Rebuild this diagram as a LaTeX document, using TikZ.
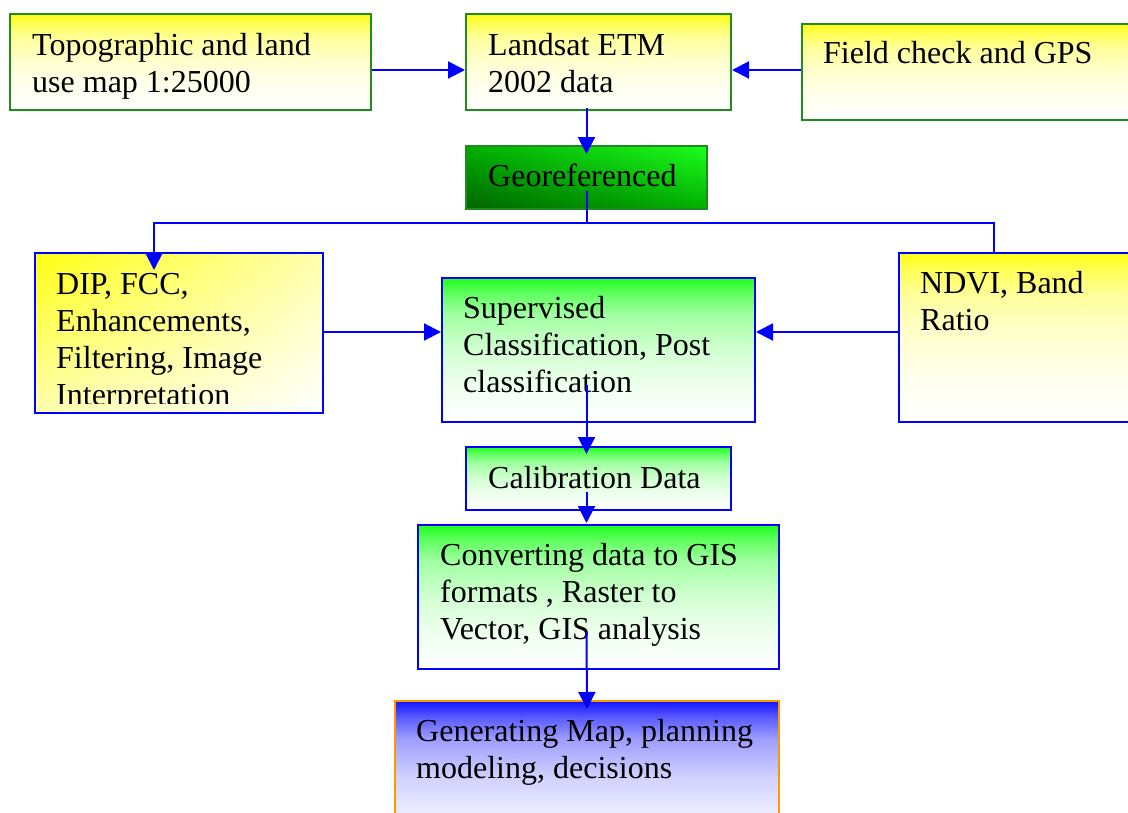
\documentclass[tikz,border=0pt]{standalone}
\usepackage{fontspec}
\setmainfont{Liberation Serif}
\usetikzlibrary{arrows.meta,calc,shadings}
\definecolor{ogreen}{RGB}{30,140,30}
\definecolor{ylw}{RGB}{255,255,20}
\definecolor{grn}{RGB}{30,255,30}
\definecolor{mgrn}{RGB}{0,175,0}
\definecolor{dgrn}{RGB}{0,100,0}
\definecolor{blu}{RGB}{20,20,255}
\definecolor{org}{RGB}{255,153,0}
\definecolor{lylw}{RGB}{255,255,175}
\pgfdeclareverticalshading{yshade}{100bp}{color(0bp)=(white); color(25bp)=(white); color(37.5bp)=(ylw!7); color(50bp)=(ylw!20); color(62.5bp)=(ylw!42); color(70bp)=(ylw!72); color(75bp)=(ylw); color(100bp)=(ylw)}
\pgfdeclareverticalshading{gshade}{100bp}{color(0bp)=(white); color(25bp)=(white); color(37.5bp)=(grn!7); color(50bp)=(grn!20); color(62.5bp)=(grn!42); color(70bp)=(grn!72); color(75bp)=(grn); color(100bp)=(grn)}
\pgfdeclareverticalshading{bshade}{100bp}{color(0bp)=(white); color(25bp)=(blu!3); color(37.5bp)=(blu!8); color(50bp)=(blu!20); color(62.5bp)=(blu!42); color(70bp)=(blu!72); color(75bp)=(blu); color(100bp)=(blu)}
\begin{document}
\begin{tikzpicture}[x=1pt,y=-1pt,
  box/.style={rectangle, inner sep=0pt, line width=2pt},
  gbox/.style={box, draw=ogreen},
  bbox/.style={box, draw=blue},
  obox/.style={box, draw=org},
  yfill/.style={shade, shading=yshade},
  gfill/.style={shade, shading=gshade},
  bfill/.style={shade, shading=bshade},
  lbl/.style={anchor=base west, inner sep=0pt, font=\fontsize{32}{37}\selectfont, text=black},
  conn/.style={draw=blue, line width=2pt},
  arr/.style={conn, -{Triangle[length=17pt,width=17pt]}}]
\useasboundingbox (0,0) rectangle (1128,812);
\clip (0,0) rectangle (1128,812);
\fill[white] (0,0) rectangle (1128,812);

% boxes
\node[gbox, yfill, minimum width=361pt, minimum height=96pt] (topo) at (190.5,62) {};
\node[gbox, yfill, minimum width=265pt, minimum height=96pt] (landsat) at (598.5,62) {};
\node[gbox, yfill, minimum width=338pt, minimum height=96pt] (field) at (971,72) {};
\node[gbox, minimum width=241pt, minimum height=63pt, lower left=dgrn, upper right=grn, upper left=mgrn, lower right=mgrn] (geo) at (586.5,177.5) {};
\node[bbox, minimum width=288pt, minimum height=160pt, upper left=ylw, lower right=white, upper right=lylw, lower left=lylw] (dip) at (179,333) {};
\node[bbox, gfill, minimum width=313pt, minimum height=144pt] (sup) at (598.5,350) {};
\node[bbox, yfill, minimum width=241pt, minimum height=169pt] (ndvi) at (1019.5,337.5) {};
\node[bbox, gfill, minimum width=265pt, minimum height=63pt] (cal) at (598.5,478.5) {};
\node[bbox, gfill, minimum width=361pt, minimum height=144pt] (conv) at (598.5,597) {};
\node[obox, bfill, minimum width=384pt, minimum height=150pt] (gen) at (587,776) {};

% labels
\node[lbl] (ttopo) at (32,55) {\vtop{\hbox{Topographic and land}\hbox{use map 1:25000}}};
\node[lbl] (tland) at (488,55) {\vtop{\hbox{Landsat ETM}\hbox{2002 data}}};
\node[lbl] (tfield) at (823,63) {Field check and GPS};
\node[lbl] (tgeo) at (488,186) {Georeferenced};
\begin{scope}
\clip (35,253) rectangle (323,403);
\node[lbl] (tdip) at (56,294) {\vtop{\hbox{DIP, FCC,}\hbox{Enhancements,}\hbox{Filtering, Image}\hbox{Interpretation}}};
\end{scope}
\node[lbl] (tsup) at (463,318) {\vtop{\hbox{Supervised}\hbox{Classification, Post}\hbox{classification}}};
\node[lbl] (tndvi) at (920,293) {\vtop{\hbox{NDVI, Band}\hbox{Ratio}}};
\node[lbl] (tcal) at (488,488) {Calibration Data};
\node[lbl] (tconv) at (440,565) {\vtop{\hbox{Converting data to GIS}\hbox{formats , Raster to}\hbox{Vector, GIS analysis}}};
\node[lbl] (tgen) at (416,741) {\vtop{\hbox{Generating Map, planning}\hbox{modeling, decisions}}};

% connectors
\draw[arr] ($(topo.east)+(0,8)$) -- ($(landsat.west)+(0,8)$);
\draw[arr] ($(field.west)+(0,-2)$) -- ($(landsat.east)+(0,8)$);
\draw[arr] ($(geo.north |- landsat.south)+(0,-3)$) -- ($(geo.north)+(0,9)$);
\coordinate (j) at ($(geo.north)+(0,78)$);
\draw[conn] ($(geo.center)+(0,13)$) -- (j);
\draw[arr] (j) -| ($(dip.north west)+(120,18)$);
\draw[conn] (j) -| ($(ndvi.north west)+(96,0)$);
\draw[arr] ($(dip.east)+(0,-1)$) -- (sup.west |- {$(dip.east)+(0,-1)$});
\draw[arr] ($(ndvi.west)+(0,-5.5)$) -- (sup.east |- {$(ndvi.west)+(0,-5.5)$});
\draw[arr] ($(geo.north |- sup.center)+(0,35)$) -- ($(geo.north |- cal.north)+(0,8)$);
\draw[arr] ($(geo.north |- cal.center)+(0,13)$) -- ($(geo.north |- conv.north)+(0,-1)$);
\draw[arr] ($(geo.north |- conv.center)+(0,35)$) -- ($(gen.north)+(0,9)$);
\end{tikzpicture}
\end{document}
